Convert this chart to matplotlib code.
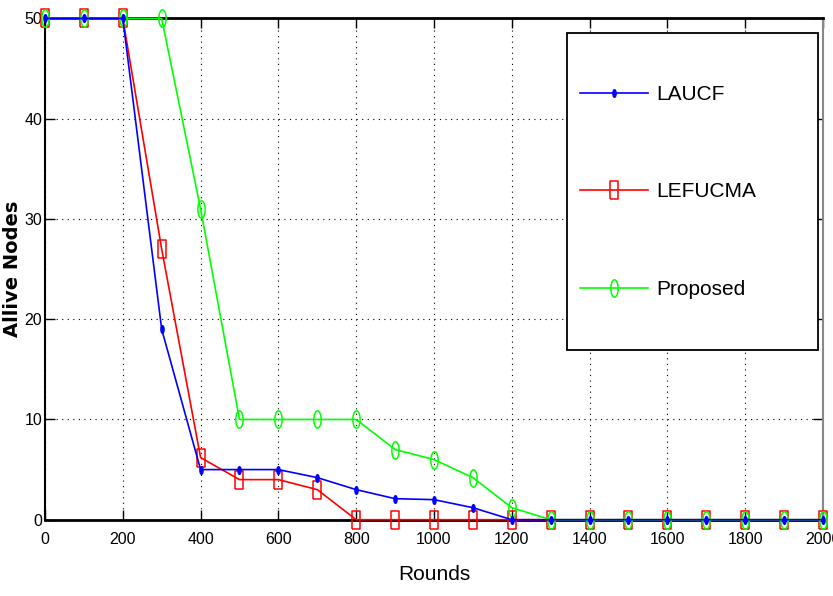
import numpy as np
import matplotlib
matplotlib.use("Agg")
import matplotlib.pyplot as plt
from matplotlib.patches import Rectangle

plt.rcParams["font.family"] = ["Liberation Sans", "DejaVu Sans"]

# data
rounds = list(range(0, 2001, 100))
laucf = [50, 50, 50, 19, 5, 5, 5, 4.2, 3, 2.1, 2, 1.2, 0, 0, 0, 0, 0, 0, 0, 0, 0]
lefucma = [50, 50, 50, 27, 6.2, 4, 4, 3, 0, 0, 0, 0, 0, 0, 0, 0, 0, 0, 0, 0, 0]
proposed = [50, 50, 50, 50, 31, 10, 10, 10, 10, 7, 6, 4.2, 1.2, 0, 0, 0, 0, 0, 0, 0, 0]
labels = ["LAUCF", "LEFUCMA", "Proposed"]

# tall (squashed) marker shapes like the reference
t = np.linspace(0, 2 * np.pi, 40)
ellipse = np.column_stack([0.42 * np.cos(t), np.sin(t)])
rect = [(-0.42, -1), (0.42, -1), (0.42, 1), (-0.42, 1), (-0.42, -1)]

fig = plt.figure(figsize=(8.33, 5.96), dpi=100)
ax = fig.add_axes([0.054, 0.128, 0.934, 0.841])

l1, = ax.plot(rounds, laucf, color="#0000ff", lw=1.2, marker=ellipse, ms=5.5,
              mfc="#0000ff", mec="#0000ff", zorder=5, clip_on=False)
l2, = ax.plot(rounds, lefucma, color="#ff0000", lw=1.2, marker=rect, ms=12.5,
              mfc="none", mec="#ff0000", mew=1.1, zorder=3, clip_on=False)
l3, = ax.plot(rounds, proposed, color="#00ff00", lw=1.2, marker=ellipse, ms=12.5,
              mfc="none", mec="#00ff00", mew=1.1, zorder=4, clip_on=False)

ax.set_xlim(0, 2000)
ax.set_ylim(0, 50)
ax.set_xticks(range(0, 2001, 200))
ax.set_yticks(range(0, 51, 10))
ax.grid(True, color="black", linestyle=(0, (1, 4)), linewidth=0.8)
ax.tick_params(direction="in", length=7, width=1, labelsize=11.5,
               top=True, right=True)
ax.tick_params(axis="x", pad=9)
ax.tick_params(axis="y", pad=2)
for s in ["top", "bottom"]:
    ax.spines[s].set_linewidth(2)
ax.spines["left"].set_linewidth(1.5)
ax.spines["right"].set_color("#888888")
ax.spines["right"].set_linewidth(1.5)

ax.set_xlabel("Rounds", fontsize=15, labelpad=13)
ax.set_ylabel("Allive Nodes", fontsize=14, fontweight="bold",
              family="DejaVu Sans")
ax.yaxis.set_label_coords(-0.029, 0.5)

# legend box
ax.add_patch(Rectangle((0.671, 0.339), 0.323, 0.633, transform=ax.transAxes,
                       facecolor="white", edgecolor="black", lw=1.3, zorder=6))
leg = ax.legend([l1, l2, l3], labels, loc="upper left",
                bbox_to_anchor=(0.688, 0.867), frameon=False, fontsize=15,
                labelspacing=3.76, handlelength=3.27, handletextpad=0.4,
                borderpad=0, borderaxespad=0)
leg.set_zorder(7)

fig.savefig("out.png", dpi=100)
